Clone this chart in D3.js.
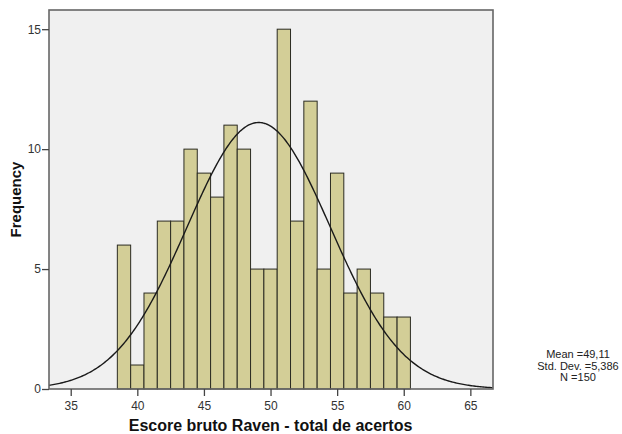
<!DOCTYPE html>
<html>
<head>
<meta charset="utf-8">
<script src="https://cdn.jsdelivr.net/npm/d3@7"></script>
<style>
  html, body { margin: 0; padding: 0; background: #fff; }
  svg { display: block; font-family: "Liberation Sans", Arial, sans-serif; }
</style>
</head>
<body>
<div id="chart"></div>
<script>
// Histogram bins (score, count)
const scores = [39, 40, 41, 42, 43, 44, 45, 46, 47, 48, 49, 50, 51, 52, 53, 54, 55, 56, 57, 58, 59, 60];
const counts = [6, 1, 4, 7, 7, 10, 9, 8, 11, 10, 5, 5, 15, 7, 12, 5, 9, 4, 5, 4, 3, 3];

// Summary statistics printed beside the chart
const mean = 49.11;
const stdDev = 5.386;
const n = 150;
const statLabels = ["Mean =49,11", "Std. Dev. =5,386", "N =150"];

const xTicks = [35, 40, 45, 50, 55, 60, 65];
const yTicks = [0, 5, 10, 15];

const width = 622;
const height = 434;
const margin = { top: 10, right: 129, bottom: 45, left: 49 };

const svg = d3.select("#chart").append("svg")
  .attr("width", width)
  .attr("height", height);

const x = d3.scaleLinear()
  .domain([33.37, 66.7])
  .range([margin.left, width - margin.right]);

const y = d3.scaleLinear()
  .domain([0, 15.8])
  .range([height - margin.bottom, margin.top]);

// Plot background
svg.append("rect")
  .attr("x", margin.left)
  .attr("y", margin.top)
  .attr("width", width - margin.left - margin.right)
  .attr("height", height - margin.top - margin.bottom)
  .attr("fill", "#f0f0f0");

// Bars
svg.append("g")
  .selectAll("rect")
  .data(scores)
  .join("rect")
  .attr("x", (d) => x(d - 0.5))
  .attr("y", (d, i) => y(counts[i]))
  .attr("width", (d) => x(d + 0.5) - x(d - 0.5))
  .attr("height", (d, i) => y(0) - y(counts[i]))
  .attr("fill", "#d3ce97")
  .attr("stroke", "#2b2b22")
  .attr("stroke-width", 1);

// Normal curve fitted from the printed mean / sd / N (bin width 1)
const curveXs = d3.range(x.domain()[0], x.domain()[1] + 0.001, 0.1);
const normal = (v) => n / (stdDev * Math.sqrt(2 * Math.PI)) *
  Math.exp(-0.5 * ((v - mean) / stdDev) ** 2);

svg.append("path")
  .datum(curveXs)
  .attr("fill", "none")
  .attr("stroke", "#1a1a1a")
  .attr("stroke-width", 1.4)
  .attr("d", d3.line().x((d) => x(d)).y((d) => y(normal(d))));

// Frame
svg.append("rect")
  .attr("x", margin.left)
  .attr("y", margin.top)
  .attr("width", width - margin.left - margin.right)
  .attr("height", height - margin.top - margin.bottom)
  .attr("fill", "none")
  .attr("stroke", "#666")
  .attr("stroke-width", 1.6);

// X axis
const xAxis = svg.append("g")
  .attr("transform", `translate(0, ${height - margin.bottom})`)
  .call(d3.axisBottom(x).tickValues(xTicks).tickSize(7).tickSizeOuter(0));
xAxis.select(".domain").remove();
xAxis.selectAll("line").attr("stroke", "#444").attr("stroke-width", 1.3);
xAxis.selectAll("text")
  .attr("fill", "#333")
  .attr("dy", "0.95em")
  .style("font-size", "12px");

// Y axis
const yAxis = svg.append("g")
  .attr("transform", `translate(${margin.left}, 0)`)
  .call(d3.axisLeft(y).tickValues(yTicks).tickSize(7).tickSizeOuter(0).tickPadding(1));
yAxis.select(".domain").remove();
yAxis.selectAll("line").attr("stroke", "#444").attr("stroke-width", 1.3);
yAxis.selectAll("text")
  .attr("fill", "#333")
  .style("font-size", "12px");

// Axis titles
svg.append("text")
  .attr("x", x(50))
  .attr("y", 431)
  .attr("text-anchor", "middle")
  .attr("font-weight", "bold")
  .attr("fill", "#111")
  .style("font-size", "16px")
  .text("Escore bruto Raven - total de acertos");

svg.append("text")
  .attr("transform", `translate(21, ${(margin.top + height - margin.bottom) / 2}) rotate(-90)`)
  .attr("text-anchor", "middle")
  .attr("font-weight", "bold")
  .attr("fill", "#111")
  .style("font-size", "15px")
  .text("Frequency");

// Stats box
svg.append("g")
  .selectAll("text")
  .data(statLabels)
  .join("text")
  .attr("x", 578)
  .attr("y", (d, i) => 358 + i * 11.5)
  .attr("text-anchor", "middle")
  .attr("fill", "#222")
  .style("font-size", "11px")
  .text((d) => d);
</script>
</body>
</html>
